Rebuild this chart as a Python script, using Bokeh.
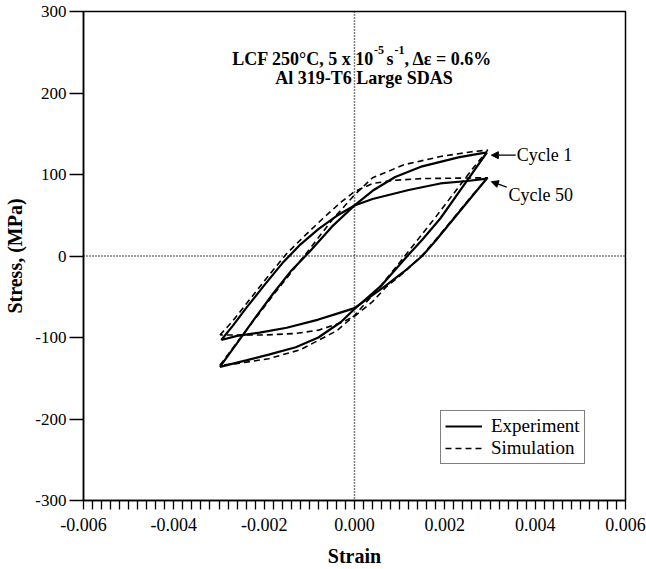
from bokeh.plotting import figure
from bokeh.models import (Range1d, FixedTicker, CustomJSTickFormatter, Label, Arrow, NormalHead,
                          Legend, LegendItem, Span)
from bokeh.embed import file_html
from bokeh.resources import INLINE

# ---------------- data ----------------
# Cycle 1, experiment (closed loop: loading branch then unloading branch)
c1_exp_strain = [-0.00298, -0.0026, -0.0022, -0.0018, -0.0014, -0.0010, -0.0005, 0.0, 0.0004, 0.0009,
                 0.0015, 0.0023, 0.0028, 0.00293,
                 0.0025, 0.0019, 0.0015, 0.00117, 0.0006, 0.0, -0.0003, -0.0008, -0.0013,
                 -0.0019, -0.0024, -0.00298]
c1_exp_stress = [-136, -107, -76, -46, -18, 5, 36, 62, 80, 97,
                 110, 121, 126, 127,
                 93, 46, 20, 0, -36, -65, -81, -100, -112,
                 -121, -128, -136]

# Cycle 50, experiment
c50_exp_strain = [-0.00295, -0.0027, -0.0024, -0.0020, -0.0016, -0.0012, -0.0008, -0.0004, 0.0, 0.0004,
                  0.0012, 0.0019, 0.0025, 0.00293,
                  0.0026, 0.0022, 0.0018, 0.0015, 0.0011, 0.0007, 0.0003, 0.0, -0.0004, -0.0008,
                  -0.0015, -0.0021, -0.0026, -0.00295]
c50_exp_stress = [-103, -86, -64, -36, -9, 14, 33, 49, 62, 70,
                  81, 89, 92, 95,
                  73, 46, 19, 0, -19, -36, -52, -64, -71, -78,
                  -88, -94, -98, -103]

# Cycle 1, simulation
c1_sim_strain = [-0.00298, -0.0026, -0.0022, -0.0018, -0.0014, -0.0010, -0.0005, 0.0, 0.0004, 0.0011,
                 0.0019, 0.0026, 0.00295,
                 0.0026, 0.0022, 0.0018, 0.0014, 0.0010, 0.0005, 0.0, -0.0004, -0.0012,
                 -0.0019, -0.0026, -0.00298]
c1_sim_stress = [-134, -106, -77, -48, -20, 8, 44, 75, 96, 112,
                 122, 128, 130,
                 106, 77, 48, 20, -8, -42, -73, -92, -115,
                 -126, -132, -134]

# Cycle 50, simulation
c50_sim_strain = [-0.00298, -0.0027, -0.0023, -0.0019, -0.0015, -0.0011, -0.0007, -0.0003, 0.0, 0.0004,
                  0.0009, 0.0015, 0.00295,
                  0.0026, 0.0022, 0.0018, 0.0015, 0.0011, 0.0007, 0.0004, 0.0, -0.0003, -0.0008,
                  -0.0013, -0.0020, -0.00298]
c50_sim_stress = [-97, -80, -52, -24, 3, 25, 46, 66, 79, 89,
                  93, 95, 96,
                  74, 47, 20, 1, -20, -38, -56, -74, -82, -91,
                  -95, -97, -97]

x_tick_labels = ["-0.006", "-0.004", "-0.002", "0.000", "0.002", "0.004", "0.006"]
y_ticks = [-300, -200, -100, 0, 100, 200, 300]
y_tick_labels = ["-300", "-200", "-100", "0", "100", "200", "300"]

# ---------------- figure ----------------
SERIF = "Liberation Serif"
X0, X1, Y0, Y1 = -0.006, 0.006, -300, 300

p = figure(width=646, height=569, output_backend="svg", toolbar_location=None,
           x_range=Range1d(X0, X1), y_range=Range1d(Y0, Y1),
           min_border_left=83, min_border_right=21, min_border_top=11, min_border_bottom=68)
p.background_fill_color = "white"
p.border_fill_color = "white"
p.outline_line_color = "black"
p.outline_line_width = 1.5
p.grid.visible = False

# x axis: a tick every 0.0002, labelled every 0.002
x_tick_pos = [round(X0 + 0.0002 * i, 5) for i in range(61)]
p.xaxis.ticker = FixedTicker(ticks=x_tick_pos, minor_ticks=[])
p.xaxis.formatter = CustomJSTickFormatter(
    args=dict(labels=x_tick_labels),
    code="const k = Math.round(tick / 0.002); return Math.abs(tick / 0.002 - k) < 1e-6 ? labels[k + 3] : '';")
# y axis: labelled ticks every 100
p.yaxis.ticker = FixedTicker(ticks=y_ticks)
p.yaxis.formatter = CustomJSTickFormatter(args=dict(labels=y_tick_labels),
                                          code="return labels[Math.round(tick / 100) + 3];")

for ax in (p.xaxis, p.yaxis):
    ax.axis_line_color = "black"
    ax.axis_line_width = 1.5
    ax.major_tick_in = 0
    ax.major_tick_line_color = "black"
    ax.minor_tick_line_color = None
    ax.major_label_text_font = SERIF
    ax.major_label_text_color = "black"
    ax.axis_label_text_font = SERIF
    ax.axis_label_text_font_style = "bold"
    ax.axis_label_text_font_size = "20px"
    ax.axis_label_text_color = "black"

p.xaxis.major_tick_out = 9
p.xaxis.major_tick_line_width = 1.3
p.xaxis.major_label_standoff = 8
p.yaxis.major_tick_out = 14
p.yaxis.major_tick_line_width = 1.5
p.yaxis.major_label_standoff = 3

p.xaxis.major_label_text_font_size = "18px"
p.yaxis.major_label_text_font_size = "17px"
p.xaxis.axis_label = "Strain"
p.yaxis.axis_label = "Stress, (MPa)"
p.xaxis.axis_label_standoff = 11
p.yaxis.axis_label_standoff = 6

# dotted zero lines
p.add_layout(Span(location=0, dimension="height", line_color="black", line_dash="1 2", line_width=1.5))
p.add_layout(Span(location=0, dimension="width", line_color="black", line_dash="1 2", line_width=1.5))

# loops
r_exp1 = p.line(c1_exp_strain, c1_exp_stress, line_color="black", line_width=2.2)
r_exp50 = p.line(c50_exp_strain, c50_exp_stress, line_color="black", line_width=2.2)
r_sim1 = p.line(c1_sim_strain, c1_sim_stress, line_color="black", line_width=1.6, line_dash="6 4")
r_sim50 = p.line(c50_sim_strain, c50_sim_stress, line_color="black", line_width=1.6, line_dash="6 4")

# legend
legend = Legend(items=[LegendItem(label="Experiment", renderers=[r_exp1]),
                       LegendItem(label="Simulation", renderers=[r_sim1])],
                location=(357, 36), margin=0, padding=4, spacing=0,
                glyph_width=37, glyph_height=16, label_height=16, label_standoff=9,
                border_line_color="black", border_line_width=1.5,
                background_fill_color="white", background_fill_alpha=1.0,
                label_text_font=SERIF, label_text_font_size="19px", label_text_color="black")
p.add_layout(legend)

# title lines (data-unit positions of annotation text)
def lab(x, y, text, size, bold=True, align="left", baseline="alphabetic"):
    p.add_layout(Label(x=x, y=y, text=text, text_font=SERIF, text_font_size=size,
                       text_font_style="bold" if bold else "normal", text_color="black",
                       text_align=align, text_baseline=baseline))

lab(-0.002708, 242, "LCF 250°C, 5 x 10", "18px")
lab(0.000432, 253, "-5", "12px")
lab(0.000708, 242, "s", "18px")
lab(0.000886, 253, "-1", "12px")
lab(0.001107, 242, ", Δε = 0.6%", "18px")
lab(0.00021, 218, "Al 319-T6 Large SDAS", "18px", align="center")

# cycle annotations
lab(0.00359, 123.7, "Cycle 1", "18px", bold=False, baseline="middle")
lab(0.00341, 74.7, "Cycle 50", "18px", bold=False, baseline="middle")
p.add_layout(Arrow(end=NormalHead(size=7, fill_color="black", line_color="black"),
                   x_start=0.00357, y_start=123.7, x_end=0.00303, y_end=123.7,
                   line_color="black", line_width=1.2))
p.add_layout(Arrow(end=NormalHead(size=7, fill_color="black", line_color="black"),
                   x_start=0.00337, y_start=84.5, x_end=0.00303, y_end=91.2,
                   line_color="black", line_width=1.2))

open("out.html", "w").write(file_html(p, INLINE))
